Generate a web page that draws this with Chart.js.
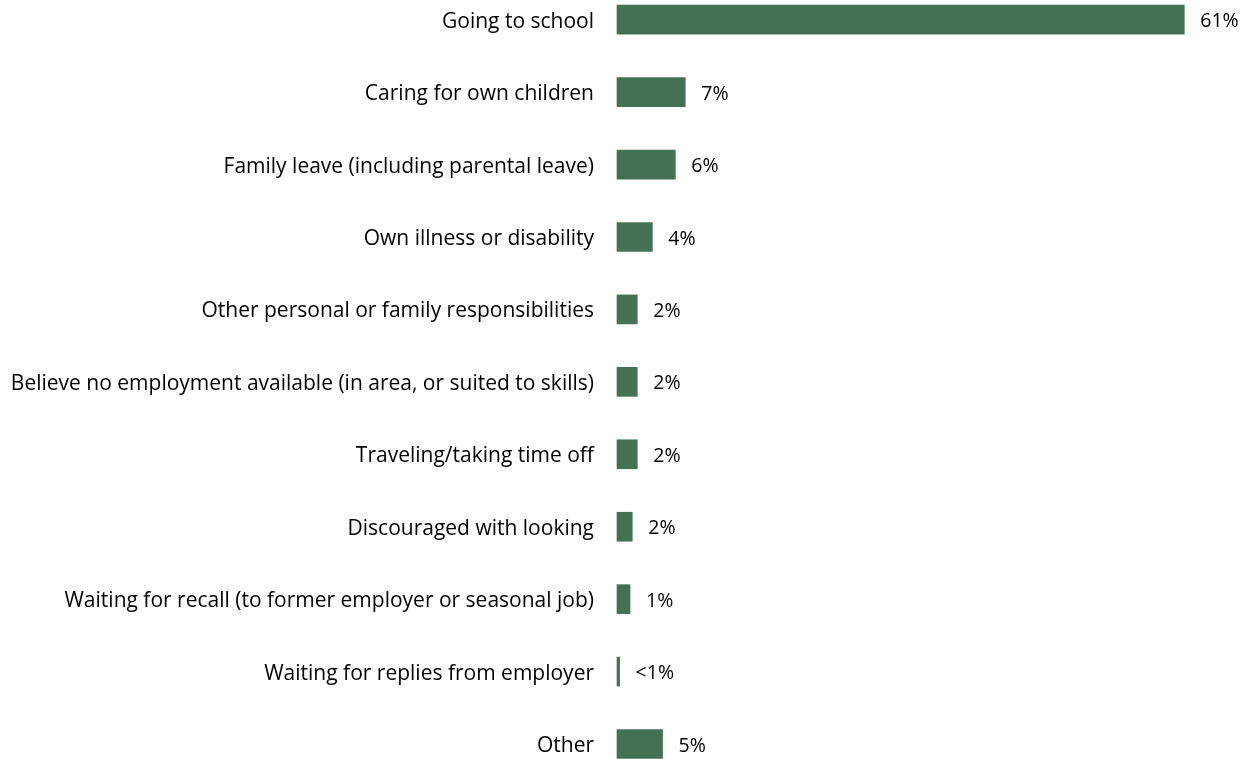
<!DOCTYPE html>
<html>
<head>
<meta charset="utf-8">
<title>Reasons for not looking for work</title>
<script src="https://cdn.jsdelivr.net/npm/chart.js"></script>
<style>
    html, body { margin: 0; padding: 0; background: #ffffff; }
    .wrap { width: 1256px; height: 759px; position: relative; }
</style>
</head>
<body>
<div class="wrap"><canvas id="grafico"></canvas></div>
<script>
// --- DADOS ---
const categorias = [
    'Going to school',
    'Caring for own children',
    'Family leave (including parental leave)',
    'Own illness or disability',
    'Other personal or family responsibilities',
    'Believe no employment available (in area, or suited to skills)',
    'Traveling/taking time off',
    'Discouraged with looking',
    'Waiting for recall (to former employer or seasonal job)',
    'Waiting for replies from employer',
    'Other'
];
const percentuais = [61, 7.34, 6.27, 3.8, 2.18, 2.18, 2.18, 1.64, 1.4, 0.28, 4.9];

const VERDE = '#427253';
const FONTE = '"Open Sans", Lato, sans-serif';

// rótulo do valor: arredonda, abaixo de 1 vira "<1%"
function rotulo(v) {
    const r = Math.round(v);
    return r < 1 ? '<1%' : r + '%';
}

// escreve o valor à direita de cada barra
const valoresPlugin = {
    id: 'valores',
    afterDatasetsDraw(chart) {
        const ctx = chart.ctx;
        const meta = chart.getDatasetMeta(0);
        ctx.save();
        ctx.font = '19.5px ' + FONTE;
        ctx.fillStyle = '#000000';
        ctx.textAlign = 'left';
        ctx.textBaseline = 'middle';
        meta.data.forEach((bar, i) => {
            ctx.fillText(rotulo(percentuais[i]), bar.x + 16, bar.y + 2);
        });
        ctx.restore();
    }
};

const ctx = document.getElementById('grafico').getContext('2d');
new Chart(ctx, {
    type: 'bar',
    data: {
        labels: categorias,
        datasets: [{
            data: percentuais,
            backgroundColor: VERDE,
            borderWidth: 0,
            barThickness: 29,
            clip: false
        }]
    },
    options: {
        indexAxis: 'y',
        responsive: true,
        maintainAspectRatio: false,
        animation: false,
        layout: { padding: { top: 19.7, bottom: 15, left: 0, right: 0 } },
        plugins: {
            legend: { display: false },
            tooltip: { enabled: false }
        },
        scales: {
            x: {
                min: 0,
                max: 639 / 9.3,
                display: false,
                grid: { display: false }
            },
            y: {
                offset: false,
                grid: { display: false, drawTicks: false },
                border: { display: false },
                ticks: {
                    color: '#000000',
                    padding: 23,
                    labelOffset: 2,
                    font: { family: FONTE, size: 21 }
                },
                afterFit(scale) {
                    scale.width = 617;
                    scale.paddingTop = 0;
                    scale.paddingBottom = 0;
                }
            }
        }
    },
    plugins: [valoresPlugin]
});
</script>
</body>
</html>
